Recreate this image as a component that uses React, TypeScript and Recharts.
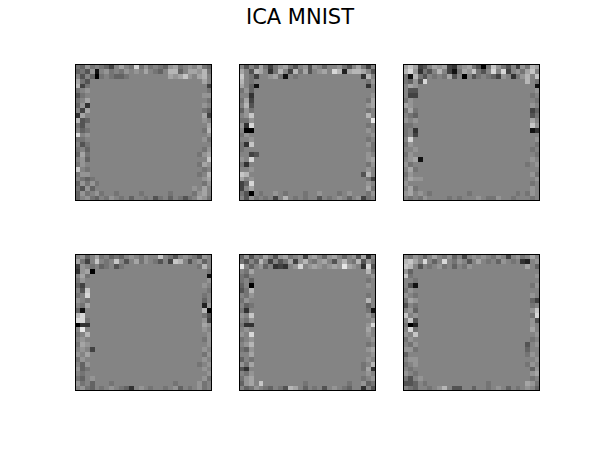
import React from "react"
import { ScatterChart, Scatter, XAxis, YAxis } from "recharts"

// flat interior of every component (22 cells between the noisy borders)
const FLAT = "8888888888888888888888"

// each component: 28 rows x 28 pixels, hex digit = grey level (0 black, f white)
const COMP_1 = [
  "769787648a87d7978769a7898a76",
  "67591897879898a8768bb68aa9b7",
  "8586078766788888888a9ac98ab8",
  "a75" + FLAT + "8a8",
  "b47" + FLAT + "884",
  "789" + FLAT + "887",
  "578" + FLAT + "899",
  "78a" + FLAT + "887",
  "693" + FLAT + "898",
  "84a" + FLAT + "876",
  "3a8" + FLAT + "8a4",
  "b56" + FLAT + "898",
  "758" + FLAT + "88a",
  "867" + FLAT + "87b",
  "d89" + FLAT + "889",
  "778" + FLAT + "897",
  "857" + FLAT + "888",
  "786" + FLAT + "879",
  "6a7" + FLAT + "79a",
  "896" + FLAT + "88c",
  "798" + FLAT + "7a9",
  "c87" + FLAT + "878",
  "799" + FLAT + "78b",
  "876" + "7888888888888888888888" + "89a",
  "697" + "9788888888888888888888" + "879",
  "759" + "6888888888888888888889" + "8a8",
  "69789788788887888887888879a8",
  "6897687987868878578687578a97",
]

const COMP_2 = [
  "8586a7479a75895986889758a748",
  "a85ba837b84b7a589a8db2abba85",
  "c874889a718788888888888883b8",
  "b87" + FLAT + "879",
  "a86" + "1888888888888888888888" + "838",
  "796" + FLAT + "888",
  "883" + FLAT + "889",
  "7a4" + FLAT + "87a",
  "8b5" + FLAT + "89a",
  "697" + FLAT + "878",
  "89c" + FLAT + "8b8",
  "779" + FLAT + "88e",
  "93d" + FLAT + "878",
  "800" + FLAT + "898",
  "798" + FLAT + "889",
  "889" + FLAT + "878",
  "73c" + FLAT + "897",
  "788" + FLAT + "887",
  "884" + "5888888888888888888888" + "898",
  "98d" + FLAT + "89a",
  "738" + FLAT + "879",
  "889" + FLAT + "898",
  "cb8" + FLAT + "5b8",
  "a89" + FLAT + "874",
  "46d" + FLAT + "898",
  "48a" + FLAT + "8a7",
  "7508788987888788988878988879",
  "859787848b878788587898689478",
]

const COMP_3 = [
  "aca458a9a4389a7507c9758497ba",
  "bd93758b8417a9c758d8d4897ac8",
  "71b758787a580857876498379b8c",
  "769" + "5d88888888888888888888" + "b87",
  "8a9" + FLAT + "881",
  "855" + FLAT + "889",
  "844" + FLAT + "878",
  "798" + FLAT + "887",
  "a98" + FLAT + "898",
  "7a7" + FLAT + "846",
  "876" + FLAT + "857",
  "989" + FLAT + "8a8",
  "778" + FLAT + "8c9",
  "783" + FLAT + "813",
  "784" + FLAT + "888",
  "8d8" + FLAT + "889",
  "798" + FLAT + "887",
  "889" + FLAT + "878",
  "798" + FLAT + "887",
  "89a" + "1888888888888888888888" + "898",
  "978" + FLAT + "789",
  "8a7" + FLAT + "888",
  "798" + FLAT + "897",
  "8a9" + "9888888888888888888888" + "889",
  "988" + FLAT + "878",
  "8a7" + FLAT + "898",
  "9a89878888888788888888878798",
  "8787988887878889877988788878",
]

const COMP_4 = [
  "8968a786768987988c8758987598",
  "a748c878c858a7987584cb858968",
  "49878678578888888888888887b8",
  "39a" + "0888888888888888888888" + "887",
  "8a7" + FLAT + "881",
  "798" + FLAT + "889",
  "648" + FLAT + "898",
  "85c" + FLAT + "887",
  "78d" + FLAT + "878",
  "987" + FLAT + "868",
  "87a" + FLAT + "829",
  "618" + FLAT + "8b0",
  "bd8" + FLAT + "875",
  "dd7" + FLAT + "894",
  "033" + FLAT + "8a9",
  "8e8" + FLAT + "898",
  "78b" + FLAT + "889",
  "898" + FLAT + "879",
  "7a9" + FLAT + "889",
  "898" + "4888888888888888888888" + "898",
  "98a" + FLAT + "879",
  "798" + FLAT + "898",
  "869" + FLAT + "789",
  "967" + FLAT + "898",
  "878" + FLAT + "889",
  "768" + "9888888888888888888888" + "897",
  "9786888788888888888878888978",
  "8976878987638987887896878978",
]

const COMP_5 = [
  "69587a859a78949a869a86895a38",
  "7586b84857a49b879a859b87b597",
  "e86896834389d89a989a9ea983d5",
  "87a" + FLAT + "8b7",
  "768" + FLAT + "889",
  "786" + FLAT + "878",
  "680" + FLAT + "898",
  "57b" + FLAT + "888",
  "879" + FLAT + "878",
  "798" + FLAT + "8b8",
  "867" + FLAT + "868",
  "738" + FLAT + "871",
  "98c" + FLAT + "897",
  "879" + FLAT + "889",
  "733" + FLAT + "89d",
  "898" + FLAT + "8a8",
  "98d" + FLAT + "898",
  "789" + FLAT + "889",
  "89b" + FLAT + "878",
  "769" + FLAT + "89a",
  "88a" + FLAT + "889",
  "687" + FLAT + "898",
  "97a" + FLAT + "78b",
  "538" + FLAT + "7a3",
  "879" + FLAT + "898",
  "79a" + FLAT + "789",
  "69a8c88888888788888888788967",
  "8679876875ba8687858987688385",
]

const COMP_6 = [
  "879868a8796848989879848978a8",
  "bca8d868d879858a878698783289",
  "cb85878978687988888888888a86",
  "968" + FLAT + "888",
  "c78" + FLAT + "889",
  "887" + FLAT + "888",
  "851" + FLAT + "879",
  "798" + FLAT + "888",
  "987" + FLAT + "898",
  "7a9" + FLAT + "864",
  "587" + FLAT + "878",
  "896" + FLAT + "89c",
  "c89" + FLAT + "87d",
  "8c5" + FLAT + "895",
  "702" + FLAT + "898",
  "8d7" + FLAT + "8a8",
  "98c" + FLAT + "889",
  "798" + FLAT + "878",
  "879" + FLAT + "589",
  "997" + FLAT + "688",
  "688" + FLAT + "798",
  "899" + FLAT + "889",
  "789" + FLAT + "798",
  "878" + FLAT + "869",
  "987" + FLAT + "89a",
  "758" + "9888888888888888888888" + "878",
  "5568788888888888878888888a97",
  "87688789b8558868878986878986",
]

const COMPONENTS = [COMP_1, COMP_2, COMP_3, COMP_4, COMP_5, COMP_6]
const TITLE = "ICA MNIST"

const N = 28
const SIZE = 137
const CELL = SIZE / N
const PANEL_POS = [
  [75, 64],
  [239, 64],
  [403, 64],
  [75, 254],
  [239, 254],
  [403, 254],
]

function toCells(rows: string[]) {
  const cells: { x: number; y: number; v: number }[] = []
  rows.forEach((row, r) => {
    const full = row.padEnd(N, "8").slice(0, N)
    for (let c = 0; c < N; c++) {
      cells.push({ x: c + 0.5, y: r + 0.5, v: parseInt(full[c], 16) })
    }
  })
  return cells
}

const PixelShape = (props: any) => {
  const { cx, cy, payload } = props
  const g = Math.round(payload.v * 16.5)
  return (
    <rect
      x={cx - CELL / 2}
      y={cy - CELL / 2}
      width={CELL + 0.3}
      height={CELL + 0.3}
      fill={`rgb(${g},${g},${g})`}
      shapeRendering="crispEdges"
    />
  )
}

function Panel({ rows, left, top }: { rows: string[]; left: number; top: number }) {
  const cells = toCells(rows)
  return (
    <div style={{ position: "absolute", left, top, width: SIZE, height: SIZE }}>
      <ScatterChart width={SIZE} height={SIZE} margin={{ top: 0, right: 0, bottom: 0, left: 0 }}>
        <XAxis type="number" dataKey="x" domain={[0, N]} hide />
        <YAxis type="number" dataKey="y" domain={[0, N]} reversed hide />
        <Scatter data={cells} shape={PixelShape} isAnimationActive={false} />
      </ScatterChart>
      <div
        style={{
          position: "absolute",
          left: 0,
          top: 0,
          width: SIZE,
          height: SIZE,
          boxSizing: "border-box",
          border: "1px solid #000",
          pointerEvents: "none",
        }}
      />
    </div>
  )
}

export default function App() {
  return (
    <div
      style={{
        position: "absolute",
        left: 0,
        top: 0,
        width: 600,
        height: 451,
        background: "#fff",
        fontFamily: "DejaVu Sans",
      }}
    >
      <svg width={600} height={40} style={{ position: "absolute", left: 0, top: 0 }}>
        <text x={300} y={24} textAnchor="middle" fontSize={21} fontFamily="DejaVu Sans" fill="#000">
          {TITLE}
        </text>
      </svg>
      {COMPONENTS.map((rows, i) => (
        <Panel key={i} rows={rows} left={PANEL_POS[i][0]} top={PANEL_POS[i][1]} />
      ))}
    </div>
  )
}
